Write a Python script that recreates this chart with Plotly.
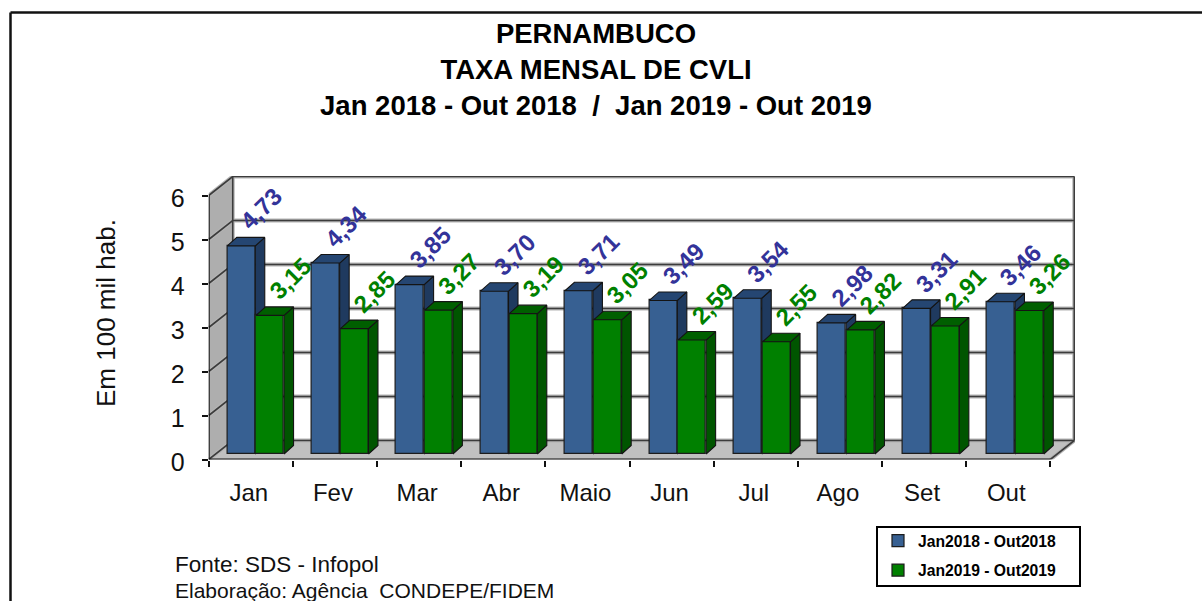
import plotly.graph_objects as go

months = ["Jan", "Fev", "Mar", "Abr", "Maio", "Jun", "Jul", "Ago", "Set", "Out"]
values_2018 = [4.73, 4.34, 3.85, 3.70, 3.71, 3.49, 3.54, 2.98, 3.31, 3.46]
values_2019 = [3.15, 2.85, 3.27, 3.19, 3.05, 2.59, 2.55, 2.82, 2.91, 3.26]
name_2018 = "Jan2018 - Out2018"
name_2019 = "Jan2019 - Out2019"
y_ticks = [0, 1, 2, 3, 4, 5, 6]

W, H = 1202, 601
FONT = "Liberation Sans"
PX_X = 84.16   # pixels per category
PX_Y = 44.0    # pixels per unit
X0_PX, Y0_PX = 208.7, 459.5
XR_PX, YT_PX = 1075.0, 176.0
XMAX = (XR_PX - X0_PX) / PX_X
YMAX = (Y0_PX - YT_PX) / PX_Y
NCAT = len(months)

# 3-D look, expressed in data units
WALL_DX, WALL_DY = 24 / PX_X, 19 / PX_Y
BAR_DX, BAR_DY = 9.5 / PX_X, 8.5 / PX_Y
BAR_BASE = 5.5 / PX_Y
BAR_W = 28 / PX_X
PITCH = 1.003
OFF_2018, OFF_2019 = 0.387, 0.729
LABEL_DX, LABEL_DY = 20 / PX_X, 37 / PX_Y


def poly(points, color, xa="x", ya="y", line=None, lw=0):
    xs, ys = zip(*points)
    return go.Scatter(x=list(xs), y=list(ys), mode="lines", fill="toself", fillcolor=color,
                      line=dict(color=line or color, width=lw), hoverinfo="skip",
                      showlegend=False, xaxis=xa, yaxis=ya, cliponaxis=False)


def line(xs, ys, color="#3c3c3c", width=2, xa="x", ya="y"):
    return go.Scatter(x=xs, y=ys, mode="lines", line=dict(color=color, width=width),
                      hoverinfo="skip", showlegend=False, xaxis=xa, yaxis=ya, cliponaxis=False)


fig = go.Figure()

# walls and floor
top = max(y_ticks)
fig.add_trace(poly([(WALL_DX, WALL_DY), (NCAT + WALL_DX, WALL_DY), (NCAT + WALL_DX, top + WALL_DY),
                    (WALL_DX, top + WALL_DY), (WALL_DX, WALL_DY)], "#ffffff"))
fig.add_trace(poly([(0, 0), (WALL_DX, WALL_DY), (WALL_DX, top + WALL_DY), (0, top), (0, 0)], "#aeaeae"))
fig.add_trace(poly([(0, 0), (NCAT, 0), (NCAT + WALL_DX, WALL_DY), (WALL_DX, WALL_DY), (0, 0)], "#c0c0c0"))

for halo_color, halo_width in (("#b4b4b4", 4), ("#3c3c3c", 1.6)):
    gx, gy = [], []
    for t in y_ticks:
        gx += [0, WALL_DX, NCAT + WALL_DX, None]
        gy += [t, t + WALL_DY, t + WALL_DY, None]
    gx += [WALL_DX, WALL_DX, None, NCAT + WALL_DX, NCAT + WALL_DX, None, NCAT, NCAT + WALL_DX]
    gy += [WALL_DY, top + WALL_DY, None, WALL_DY, top + WALL_DY, None, 0, WALL_DY]
    fig.add_trace(line(gx, gy, halo_color, halo_width))

# front axis lines
fig.add_trace(line([0, 0, NCAT], [top, 0, 0], "#111111", 2))


def add_series(values, name, offset, front, side, roof, xa, ya):
    xs = [i * PITCH + offset for i in range(NCAT)]
    fig.add_trace(go.Bar(x=xs, y=values, base=BAR_BASE, width=BAR_W, name=name, legendgroup=name,
                         marker=dict(color=front, line=dict(color="#1c1c1c", width=1.2)),
                         xaxis=xa, yaxis=ya, cliponaxis=False, hoverinfo="skip"))
    sx, sy, rx, ry = [], [], [], []
    for x, v in zip(xs, values):
        r = x + BAR_W / 2
        l = x - BAR_W / 2
        t = v + BAR_BASE
        sx += [r, r + BAR_DX, r + BAR_DX, r, r, None]
        sy += [BAR_BASE, BAR_BASE + BAR_DY, t + BAR_DY, t, BAR_BASE, None]
        rx += [l, l + BAR_DX, r + BAR_DX, r, l, None]
        ry += [t, t + BAR_DY, t + BAR_DY, t, t, None]
    for px, py, col in ((sx, sy, side), (rx, ry, roof)):
        fig.add_trace(go.Scatter(x=px, y=py, mode="lines", fill="toself", fillcolor=col,
                                 line=dict(color="#141414", width=1.1), hoverinfo="skip",
                                 showlegend=False, xaxis=xa, yaxis=ya, cliponaxis=False))
    return xs


xs_2018 = add_series(values_2018, name_2018, OFF_2018, "#376092", "#1f3a5f", "#254672", "x2", "y2")
xs_2019 = add_series(values_2019, name_2019, OFF_2019, "#008000", "#005500", "#005f00", "x3", "y3")

annotations = []
for xs, vals, col in ((xs_2018, values_2018, "#333399"), (xs_2019, values_2019, "#008000")):
    for x, v in zip(xs, vals):
        annotations.append(dict(x=x + LABEL_DX, y=v + BAR_BASE + LABEL_DY, xref="x3", yref="y3",
                                text=f"{v:.2f}".replace(".", ","), textangle=-45, showarrow=False,
                                font=dict(family=FONT, size=24, color=col, weight="bold")))

annotations += [
    dict(x=173 / W, y=1 - 564 / H, xref="paper", yref="paper", xanchor="left", yanchor="middle",
         text="Fonte: SDS - Infopol", showarrow=False, font=dict(family=FONT, size=22.5, color="#111111")),
    dict(x=173 / W, y=1 - 590 / H, xref="paper", yref="paper", xanchor="left", yanchor="middle",
         text="Elaboração: Agência  CONDEPE/FIDEM", showarrow=False,
         font=dict(family=FONT, size=21, color="#111111")),
    dict(x=106 / W, y=1 - 313 / H, xref="paper", yref="paper", xanchor="center", yanchor="middle",
         text="Em 100 mil hab.", textangle=-90, showarrow=False,
         font=dict(family=FONT, size=26, color="#111111")),
]

dom_x = [X0_PX / W, XR_PX / W]
dom_y = [1 - Y0_PX / H, 1 - YT_PX / H]
hidden = dict(visible=False, fixedrange=True)

fig.update_layout(
    width=W, height=H, autosize=False, margin=dict(l=0, r=0, t=0, b=0, autoexpand=False),
    paper_bgcolor="white", plot_bgcolor="rgba(0,0,0,0)",
    barmode="overlay", bargap=0,
    font=dict(family=FONT, color="#111111"),
    title=dict(text="PERNAMBUCO<br>TAXA MENSAL DE CVLI<br>Jan 2018 - Out 2018  /  Jan 2019 - Out 2019",
               x=596 / W, xanchor="center", y=1 - 43 / H, yanchor="top",
               font=dict(family=FONT, size=27.5, color="#000000", weight="bold")),
    xaxis=dict(domain=dom_x, range=[0, XMAX], showgrid=False, zeroline=False, showline=False,
               tickmode="array", tickvals=[i + 0.5 for i in range(NCAT)], ticktext=months,
               ticks="", tickfont=dict(family=FONT, size=24, color="#111111"), ticklabelstandoff=16,
               ticklabelshift=-2,
               minor=dict(tickmode="array", tickvals=list(range(NCAT + 1)), ticks="outside",
                          ticklen=6, tickwidth=2, tickcolor="#111111", showgrid=False)),
    yaxis=dict(domain=dom_y, range=[0, YMAX], showgrid=False, zeroline=False, showline=False,
               tickmode="array", tickvals=y_ticks, ticks="outside", ticklen=6, tickwidth=2,
               tickcolor="#111111", tickfont=dict(family=FONT, size=25, color="#111111"),
               ticklabelstandoff=12, ticklabelshift=3),
    xaxis2=dict(domain=dom_x, range=[0, XMAX], overlaying="x", anchor="y2", **hidden),
    yaxis2=dict(domain=dom_y, range=[0, YMAX], overlaying="y", anchor="x2", **hidden),
    xaxis3=dict(domain=dom_x, range=[0, XMAX], overlaying="x", anchor="y3", **hidden),
    yaxis3=dict(domain=dom_y, range=[0, YMAX], overlaying="y", anchor="x3", **hidden),
    legend=dict(x=878 / W, xanchor="left", y=1 - 524 / H, yanchor="top", orientation="v",
                bgcolor="rgba(0,0,0,0)", borderwidth=0, itemwidth=30,
                font=dict(family=FONT, size=15.7, color="#000000", weight="bold"),
                tracegroupgap=6, traceorder="grouped"),
    shapes=[
        dict(type="line", xref="paper", yref="paper", x0=10.5 / W, x1=1, y0=1 - 12.5 / H, y1=1 - 12.5 / H,
             line=dict(color="#111111", width=2.5)),
        dict(type="line", xref="paper", yref="paper", x0=10.5 / W, x1=10.5 / W, y0=0, y1=1 - 12.5 / H,
             line=dict(color="#111111", width=2.5)),
        dict(type="rect", xref="paper", yref="paper", x0=877 / W, x1=1080 / W, y0=1 - 586 / H, y1=1 - 527 / H,
             line=dict(color="#000000", width=2), fillcolor="white"),
    ],
    annotations=annotations,
)

fig.write_html("out.html", config={"displayModeBar": False, "responsive": False},
               post_script="document.body.style.margin='0';")
